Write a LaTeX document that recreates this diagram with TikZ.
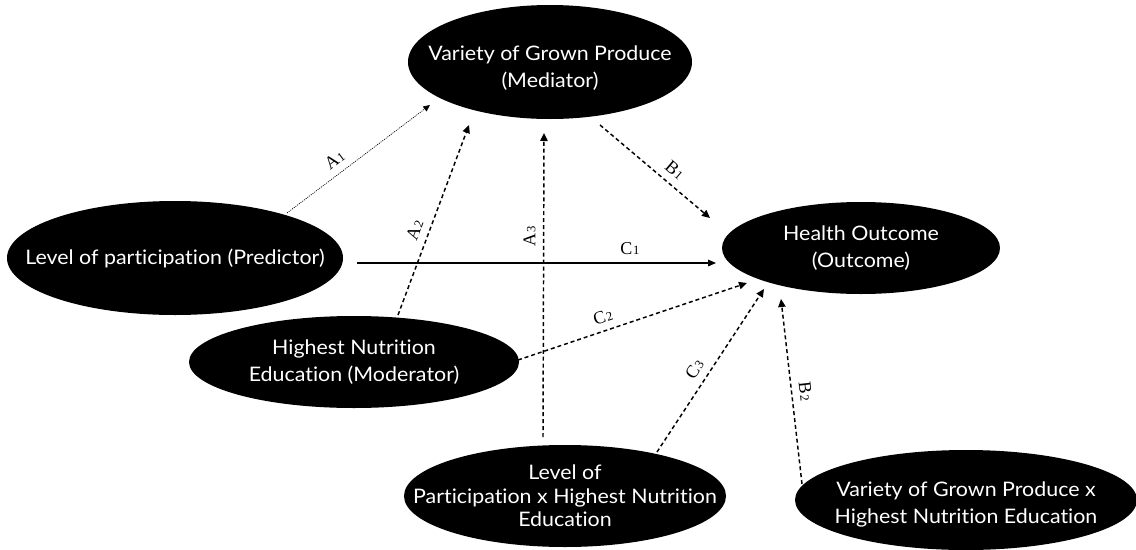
\documentclass[tikz,border=0pt]{standalone}
\usepackage{fontspec}
\setmainfont[Ligatures=NoCommon,FakeStretch=1.07]{Lato}
\newfontfamily\labfont{Liberation Serif}
\usetikzlibrary{shapes.geometric,arrows.meta,calc}
\newcommand{\sbs}[1]{\kern0.6pt{\fontsize{9.5}{9.5}\selectfont #1}}
\begin{document}
\begin{tikzpicture}[x=0.75pt,y=-0.75pt,
 ell/.style={ellipse, fill=black, draw=none, inner sep=0pt},
 txt/.style={text=white, align=center, font=\fontsize{15}{20}\selectfont},
 dsh/.style={line width=1.1pt, dash pattern=on 3pt off 2.2pt, -{Triangle[length=6pt,width=5.5pt]}},
 dot/.style={line width=0.5pt, dash pattern=on 0.8pt off 0.8pt, -{Triangle[length=5pt,width=4.5pt]}},
 sol/.style={line width=0.8pt, -{Triangle[length=6pt,width=5pt]}},
 lab/.style={font=\labfont\fontsize{13.5}{13.5}\selectfont, sloped, above=3.5pt, inner sep=2pt}]
\useasboundingbox (0,0) rectangle (1136,550);

\node[ell, minimum width=213pt, minimum height=85.5pt,
  label={[txt,yshift=-4.5pt]center:{Variety of Grown Produce\\(Mediator)}}] (med) at (550,62) {};
\node[ell, minimum width=252pt, minimum height=85.5pt,
  label={[txt]center:{Level of participation (Predictor)}}] (pred) at (175,258) {};
\node[ell, minimum width=247.5pt, minimum height=69pt,
  label={[txt]center:{Highest Nutrition\\Education (Moderator)}}] (mod) at (354,362) {};
\node[ell, minimum width=208.5pt, minimum height=69pt,
  label={[txt]center:{Health Outcome\\(Outcome)}}] (out) at (861,248) {};
\node[ell, minimum width=241.5pt, minimum height=76.5pt,
  label={[txt,font=\fontsize{15}{17.5}\selectfont]center:{Level of\\Participation x Highest Nutrition\\Education}}] (int1) at (565,496) {};
\node[ell, minimum width=256.5pt, minimum height=75pt,
  label={[txt,yshift=-3.5pt]center:{Variety of Grown Produce x\\Highest Nutrition Education}}] (int2) at (966,500) {};

\draw[dot] ($(pred)+(112,-45)$) -- node[lab,pos=.39]{A\sbs{1}} ($(med)+(-120,43)$);
\draw[dsh] ($(mod)+(44,-47)$) -- node[lab,pos=.42]{A\sbs{2}} ($(med)+(-81,63)$);
\draw[dsh] ($(int1)+(-22,-59)$) -- node[lab,pos=.66]{A\sbs{3}} ($(med)+(-6,71)$);
\draw[dsh] ($(med)+(50,63)$) -- node[lab,pos=.6]{B\sbs{1}} ($(out)+(-151,-30)$);
\draw[sol] ($(pred)+(182,5)$) -- node[lab,pos=.76]{C\sbs{1}} ($(out)+(-145,15)$);
\draw[dsh] ($(mod)+(164,-2)$) -- node[lab,pos=.39]{C\sbs{2}} ($(out)+(-114,35)$);
\draw[dsh] ($(int1)+(92,-44)$) -- node[lab,pos=.46]{C\sbs{3}} ($(out)+(-97,41)$);
\draw[dsh] ($(int2)+(-164,-16)$) -- node[lab,pos=.49]{B\sbs{2}} ($(out)+(-80,51)$);
\end{tikzpicture}
\end{document}
